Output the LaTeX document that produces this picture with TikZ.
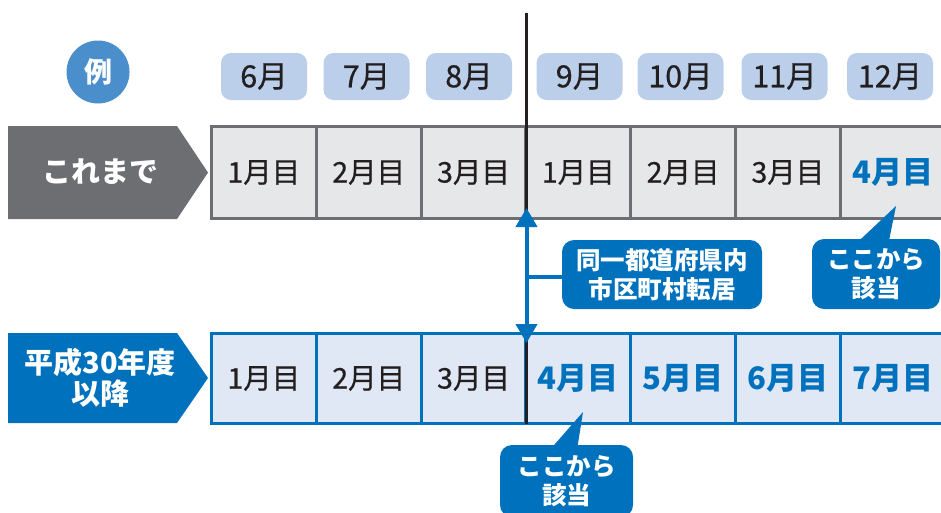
\documentclass[tikz,border=0pt]{standalone}
\usepackage{fontspec}
\setmainfont{Noto Sans CJK JP}
\newfontfamily\medfont{Noto Sans CJK JP}[FakeBold=0.6]
\usetikzlibrary{arrows.meta,calc}
\definecolor{dgray}{HTML}{6D6E71}
\definecolor{cellgray}{HTML}{E6E7E8}
\definecolor{mblue}{HTML}{0071BC}
\definecolor{cellblue}{HTML}{E1E8F5}
\definecolor{pill}{HTML}{BBCFEA}
\definecolor{cblue}{HTML}{4A8FCC}
\definecolor{txt}{HTML}{231F20}
\begin{document}
\begin{tikzpicture}[x=1pt,y=-1pt,
  cellbase/.style={minimum width=104.8pt, inner sep=0pt, line width=3pt, text=txt, font=\fontsize{28.5}{30}\medfont},
  topcell/.style={cellbase, draw=dgray, fill=cellgray, minimum height=92pt},
  botcell/.style={cellbase, draw=mblue, fill=cellblue, minimum height=90pt},
  hl/.style={text=mblue, font=\fontsize{31}{32}\selectfont\bfseries},
  pillbox/.style={fill=pill, rounded corners=10pt, minimum width=86pt, minimum height=47pt, inner sep=0pt, text=txt, font=\fontsize{30.5}{32}\medfont},
  callout/.style={fill=mblue, rounded corners=12pt, inner sep=0pt, text=white, align=center, font=\fontsize{24.5}{28.5}\selectfont\bfseries},
  headtext/.style={text=white, align=center, font=\fontsize{29}{31}\selectfont\bfseries},
  blueline/.style={draw=mblue, line width=4pt},
  blackline/.style={draw=txt, line width=3pt}
]
\useasboundingbox (0,0) rectangle (941,512);

% example circle
\node[circle, fill=cblue, minimum size=63pt, inner sep=0pt, text=white, font=\fontsize{28}{30}\selectfont\bfseries] (ex) at (98,72) {例};

% month pills
\foreach \i/\x/\m in {1/264/6月,2/366.5/7月,3/469/8月,4/579.5/9月,5/680.5/10月,6/784.5/11月,7/890/12月}
  \node[pillbox] (m\i) at (\x,76.5) {\m};

% left arrow heads
\fill[dgray] (8,126) -- (177,126) -- (208,172.5) -- (177,219) -- (8,219) -- cycle;
\node[headtext] (ha) at (100,172) {これまで};
\fill[mblue] (8,333) -- (177,333) -- (208,378) -- (177,423) -- (8,423) -- cycle;
\node[headtext] (hb) at (100,378) {平成30年度\\以降};

% top row
\node[topcell] (t1) at (263.9,172.5) {1月目};
\node[topcell] (t2) at (368.7,172.5) {2月目};
\node[topcell] (t3) at (473.5,172.5) {3月目};
\node[topcell] (t4) at (578.3,172.5) {1月目};
\node[topcell] (t5) at (683.1,172.5) {2月目};
\node[topcell] (t6) at (787.9,172.5) {3月目};
\node[topcell, hl] (t7) at (892.7,172.5) {4月目};

% bottom row
\node[botcell] (b1) at (263.9,378.5) {1月目};
\node[botcell] (b2) at (368.7,378.5) {2月目};
\node[botcell] (b3) at (473.5,378.5) {3月目};
\node[botcell, hl] (b4) at (578.3,378.5) {4月目};
\node[botcell, hl] (b5) at (683.1,378.5) {5月目};
\node[botcell, hl] (b6) at (787.9,378.5) {6月目};
\node[botcell, hl] (b7) at (892.7,378.5) {7月目};

% black divider line
\coordinate (ltop) at (526.5,13);
\coordinate (lmid1) at (526.5,214);
\coordinate (lmid2) at (526.5,338);
\coordinate (lbot) at (526.5,424);
\draw[blackline] (ltop) -- (lmid1);
\draw[blackline] (lmid2) -- (lbot);

% label box and blue arrow
\node[callout, minimum width=200pt, minimum height=69pt] (lbl) at (662,274.5) {同一都道府県内\\市区町村転居};
\coordinate (atop) at (526.5,208);
\coordinate (abot) at (526.5,343);
\coordinate (junc) at (526.5,277);
\draw[blueline, {Triangle[width=21pt,length=19pt]}-{Triangle[width=21pt,length=19pt]}] (atop) -- (abot);
\draw[blueline] (junc) -- (junc -| lbl.west);

% callouts
\node[callout, minimum width=128pt, minimum height=70pt] (ca) at (876,274) {ここから\\該当};
\coordinate (tipa) at (896,206);
\fill[mblue] ($(ca.north)+(-17,2)$) -- (tipa) -- ($(ca.north)+(13,2)$) -- cycle;

\node[callout, minimum width=133pt, minimum height=72pt] (cb) at (566.5,481) {ここから\\該当};
\coordinate (tipb) at (583,412);
\fill[mblue] ($(cb.north)+(-14,2)$) -- (tipb) -- ($(cb.north)+(11,2)$) -- cycle;
\end{tikzpicture}
\end{document}
